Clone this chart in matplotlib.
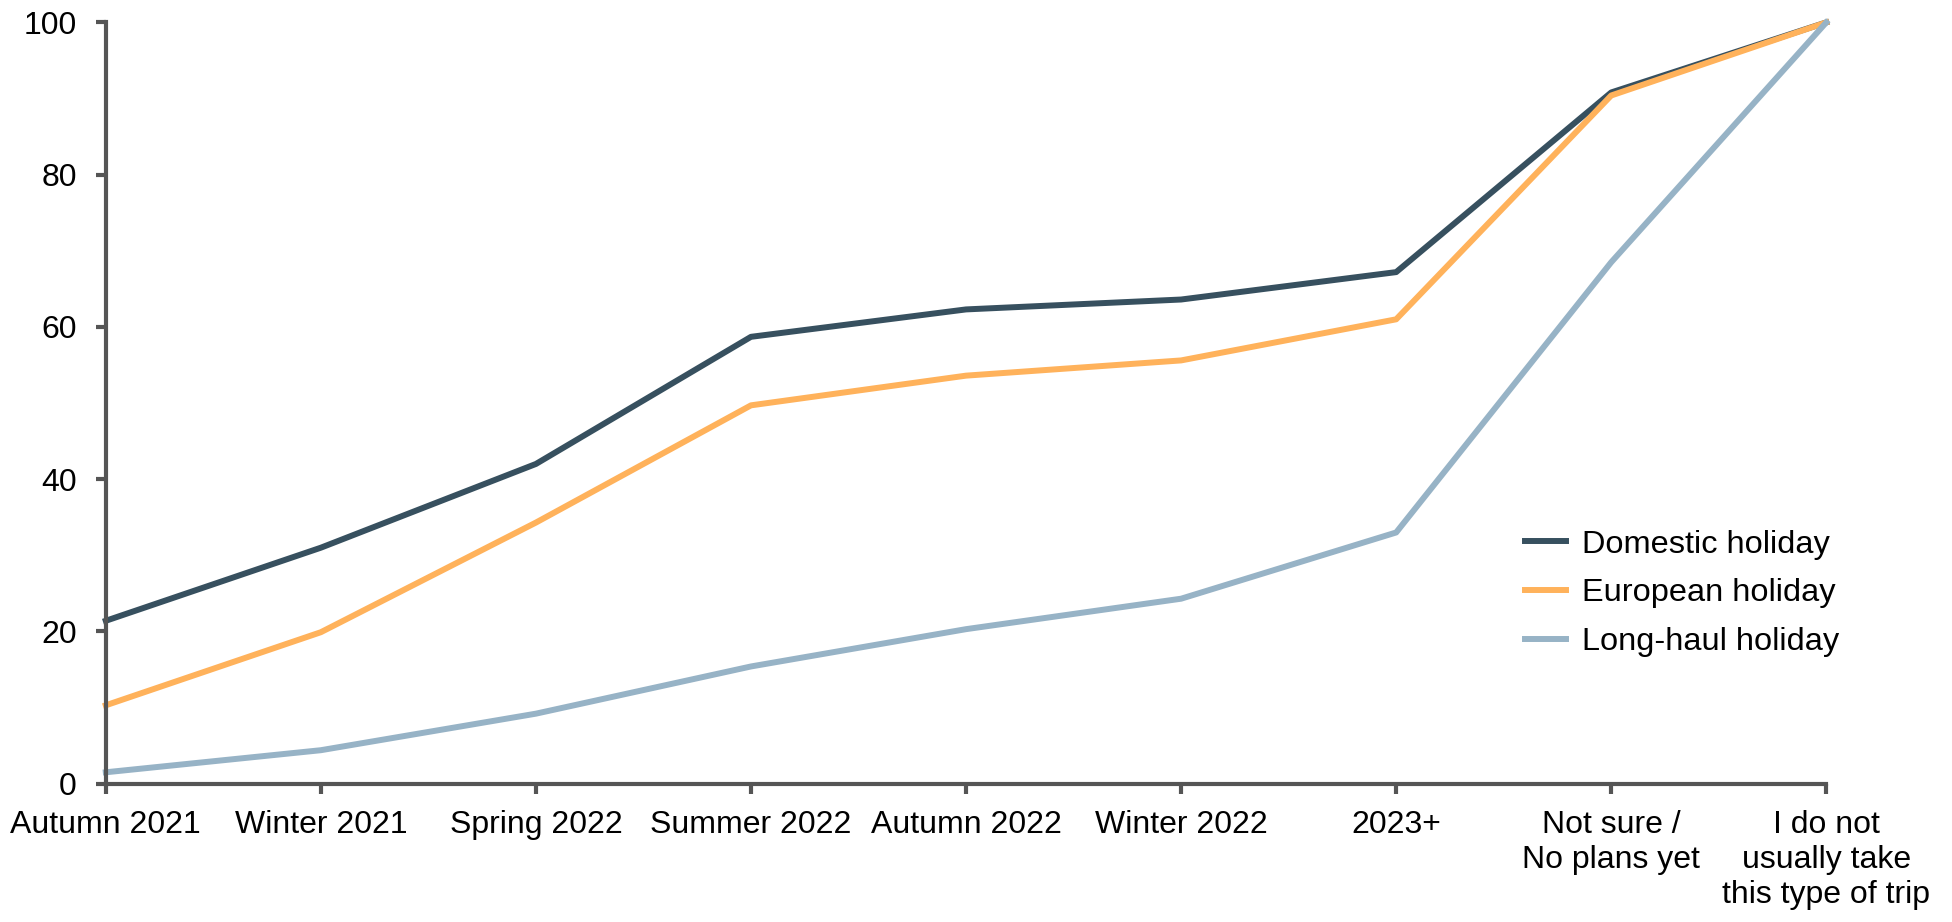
import numpy as np
import matplotlib.pyplot as plt

plt.rcParams['font.family'] = ['Liberation Sans', 'DejaVu Sans']

# categories and series (cumulative %)
categories = ["Autumn 2021", "Winter 2021", "Spring 2022", "Summer 2022",
              "Autumn 2022", "Winter 2022", "2023+", "Not sure /\nNo plans yet",
              "I do not\nusually take\nthis type of trip"]
domestic = [21.4, 31.0, 42.0, 58.7, 62.3, 63.6, 67.2, 90.8, 100]
european = [10.3, 19.9, 34.3, 49.7, 53.6, 55.6, 61.0, 90.4, 100]
longhaul = [1.5, 4.4, 9.2, 15.4, 20.3, 24.3, 33.0, 68.5, 100]
series_names = ["Domestic holiday", "European holiday", "Long-haul holiday"]
colors = ["#37505f", "#ffb25b", "#97b3c6"]

fig = plt.figure(figsize=(19.52, 9.22), dpi=100)
ax = fig.add_axes([0.0542, 0.150, 0.8814, 0.8257])

x = np.arange(len(categories))
for vals, name, col in zip([domestic, european, longhaul], series_names, colors):
    ax.plot(x, vals, color=col, lw=4.3, label=name, clip_on=False)

ax.set_xlim(0, len(categories) - 1)
ax.set_ylim(0, 100)
ax.set_xticks(x)
ax.set_xticklabels(categories, fontsize=23, linespacing=1.22)
ax.set_yticks(range(0, 101, 20))
ax.tick_params(axis='both', labelsize=23, color='#555555', width=3, length=7)
ax.tick_params(axis='y', pad=14)
ax.tick_params(axis='x', pad=12)

for s in ['top', 'right']:
    ax.spines[s].set_visible(False)
for s in ['left', 'bottom']:
    ax.spines[s].set_color('#555555')
    ax.spines[s].set_linewidth(3)

leg = ax.legend(loc='center left', bbox_to_anchor=(0.825, 0.25), frameon=False,
                fontsize=23.4, handlelength=1.25, handletextpad=0.5,
                labelspacing=0.58, borderpad=0, borderaxespad=0)

fig.savefig("out.png", dpi=100)
